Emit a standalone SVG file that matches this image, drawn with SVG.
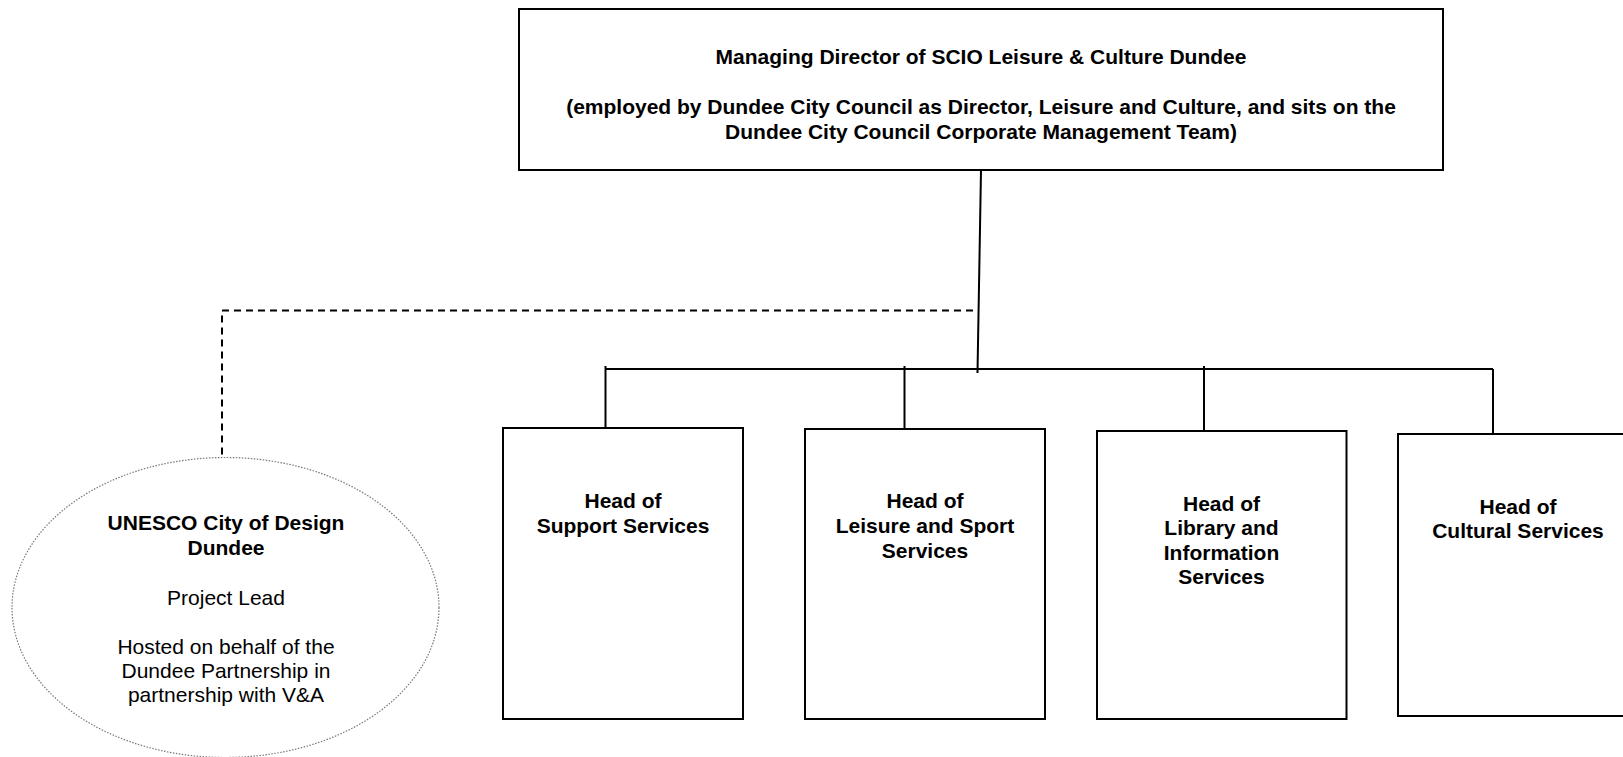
<svg xmlns="http://www.w3.org/2000/svg" width="1623" height="757" viewBox="0 0 1623 757">
  <style>
    .box { fill: #ffffff; stroke: #000000; stroke-width: 2; }
    .oval { fill: #ffffff; stroke: #777777; stroke-width: 1.2; stroke-dasharray: 1.5 1.5; }
    .line { fill: none; stroke: #000000; stroke-width: 2; }
    .dash { fill: none; stroke: #000000; stroke-width: 2; stroke-dasharray: 7 5; }
    text { font-family: "Liberation Sans", Arial, sans-serif; font-size: 21px; fill: #000000; text-anchor: middle; }
    .b { font-weight: bold; }
  </style>

  <!-- connectors -->
  <g id="connectors">
    <line class="line" x1="981" y1="170" x2="977.5" y2="373"/>
    <line class="line" x1="605" y1="369" x2="1493" y2="369"/>
    <line class="line" x1="605.5" y1="366" x2="605.5" y2="429"/>
    <line class="line" x1="904.5" y1="366" x2="904.5" y2="429"/>
    <line class="line" x1="1204" y1="366" x2="1204" y2="431"/>
    <line class="line" x1="1493" y1="369" x2="1493" y2="434"/>
    <polyline class="dash" points="973,310.5 222,310.5 222,457.5"/>
  </g>

  <!-- managing director -->
  <g id="managing-director">
    <rect class="box" x="519" y="9" width="924" height="161"/>
    <text class="b" x="981" y="64">Managing Director of SCIO Leisure &amp; Culture Dundee</text>
    <text class="b" x="981" y="114">(employed by Dundee City Council as Director, Leisure and Culture, and sits on the</text>
    <text class="b" x="981" y="139">Dundee City Council Corporate Management Team)</text>
  </g>

  <!-- UNESCO project -->
  <g id="unesco">
    <ellipse class="oval" cx="225.5" cy="607.5" rx="213.5" ry="150"/>
    <text class="b" x="226" y="530">UNESCO City of Design</text>
    <text class="b" x="226" y="555">Dundee</text>
    <text x="226" y="605">Project Lead</text>
    <text x="226" y="654">Hosted on behalf of the</text>
    <text x="226" y="678">Dundee Partnership in</text>
    <text x="226" y="702">partnership with V&amp;A</text>
  </g>

  <!-- heads of service -->
  <g id="support-services">
    <rect class="box" x="503" y="428" width="240" height="291"/>
    <text class="b" x="623" y="508">Head of</text>
    <text class="b" x="623" y="533">Support Services</text>
  </g>

  <g id="leisure-sport">
    <rect class="box" x="805" y="429" width="240" height="290"/>
    <text class="b" x="925" y="508">Head of</text>
    <text class="b" x="925" y="533">Leisure and Sport</text>
    <text class="b" x="925" y="558">Services</text>
  </g>

  <g id="library-information">
    <rect class="box" x="1097" y="431" width="249.5" height="288"/>
    <text class="b" x="1221.5" y="511">Head of</text>
    <text class="b" x="1221.5" y="535">Library and</text>
    <text class="b" x="1221.5" y="560">Information</text>
    <text class="b" x="1221.5" y="584">Services</text>
  </g>

  <g id="cultural-services">
    <rect class="box" x="1398" y="434" width="245" height="282"/>
    <text class="b" x="1518" y="514">Head of</text>
    <text class="b" x="1518" y="538">Cultural Services</text>
  </g>
</svg>
